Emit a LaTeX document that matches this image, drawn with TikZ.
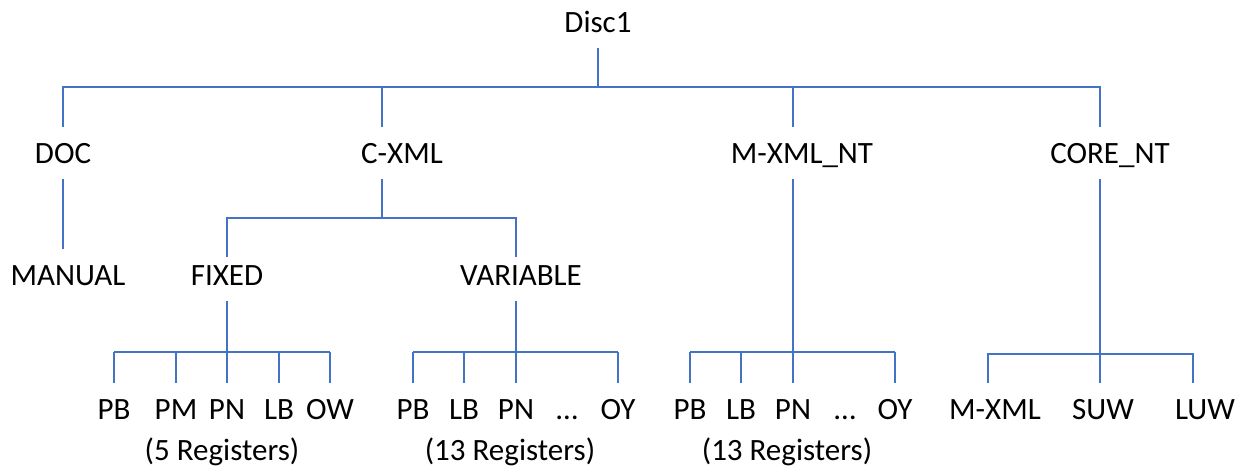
\documentclass[tikz,border=0pt]{standalone}
\usepackage{fontspec}
\setmainfont{Carlito}
\definecolor{linkblue}{RGB}{68,114,196}
\begin{document}
\begin{tikzpicture}[x=1pt,y=-1pt,
    lbl/.style={font=\fontsize{31}{36}\selectfont, anchor=base,
        inner xsep=0pt, inner ysep=16pt, text height=20pt, text depth=0pt},
    reg/.style={font=\fontsize{31}{36}\selectfont, anchor=base, inner sep=0pt},
    link/.style={draw=linkblue, line width=1.2pt}]
    % 画布范围
    \useasboundingbox (0,0) rectangle (1252,471);
    % 根节点与第一层
    \node[lbl] (disc) at (598,32) {Disc1};
    \node[lbl] (doc) at (63,163) {DOC};
    \node[lbl] (cxml) at (402,163) {C-XML};
    \node[lbl] (mxmlnt) at (802,163) {M-XML\_NT};
    \node[lbl] (core) at (1110,163) {CORE\_NT};
    % 各分叉点
    \coordinate (j0) at (598,87);
    \coordinate (jc) at (382,218);
    \coordinate (jf) at (227,352);
    \coordinate (jv) at (516,352);
    \coordinate (jm) at (793,352);
    \coordinate (jk) at (1100,354);
    % 第一层连线
    \draw[link] (disc.south) -- (j0);
    \draw[link] (doc.north) |- (jk |- j0) -- (jk |- core.north);
    \draw[link] (jc |- j0) -- (jc |- cxml.north);
    \draw[link] (jm |- j0) -- (jm |- mxmlnt.north);
    % 第二层
    \node[lbl] (manual) at (68,285) {MANUAL};
    \node[lbl] (fixed) at (227,285) {FIXED};
    \node[lbl] (variable) at (521,285) {VARIABLE};
    \draw[link] (doc.south) -- (doc.south |- manual.north);
    \draw[link] (jc |- cxml.south) -- (jc);
    \draw[link, shorten <=-8pt, shorten >=-8pt]
        (jf |- fixed.north) |- (jv |- jc) -- (jv |- variable.north);
    % FIXED 下的寄存器
    \draw[link] (jf |- fixed.south) -- (jf);
    \foreach \x/\t [count=\i] in {114/PB,176/PM,227/PN,279/LB,330/OW} {
        \node[lbl] (f\i) at (\x,419) {\t};
        \draw[link] (f\i.north) -- (f\i.north |- jf);
    }
    \draw[link] (f1.north |- jf) -- (f5.north |- jf);
    \node[reg] (freg) at (222,460) {(5 Registers)};
    % VARIABLE 下的寄存器
    \draw[link] (jv |- variable.south) -- (jv);
    \foreach \x/\t/\i in {413/PB/1,464/LB/2,516/PN/3,618/OY/5} {
        \node[lbl] (v\i) at (\x,419) {\t};
        \draw[link] (v\i.north) -- (v\i.north |- jv);
    }
    \node[lbl] (v4) at (567,419) {…};
    \draw[link] (v1.north |- jv) -- (v5.north |- jv);
    \node[reg] (vreg) at (510,460) {(13 Registers)};
    % M-XML_NT 下的寄存器
    \draw[link] (jm |- mxmlnt.south) -- (jm);
    \foreach \x/\t/\i in {690/PB/1,741/LB/2,793/PN/3,895/OY/5} {
        \node[lbl] (m\i) at (\x,419) {\t};
        \draw[link] (m\i.north) -- (m\i.north |- jm);
    }
    \node[lbl] (m4) at (845,419) {…};
    \draw[link] (m1.north |- jm) -- (m5.north |- jm);
    \node[reg] (mreg) at (787,460) {(13 Registers)};
    % CORE_NT 下的三项
    \node[lbl] (kmx) at (995,419) {M-XML};
    \node[lbl] (ksuw) at (1103,419) {SUW};
    \node[lbl] (kluw) at (1205,419) {LUW};
    \coordinate (kl) at (988,354);
    \coordinate (kr) at (1193,354);
    \draw[link] (jk |- core.south) -- (jk |- ksuw.north);
    \draw[link] (kl |- kmx.north) -- (kl) -- (kr) -- (kr |- kluw.north);
\end{tikzpicture}
\end{document}
